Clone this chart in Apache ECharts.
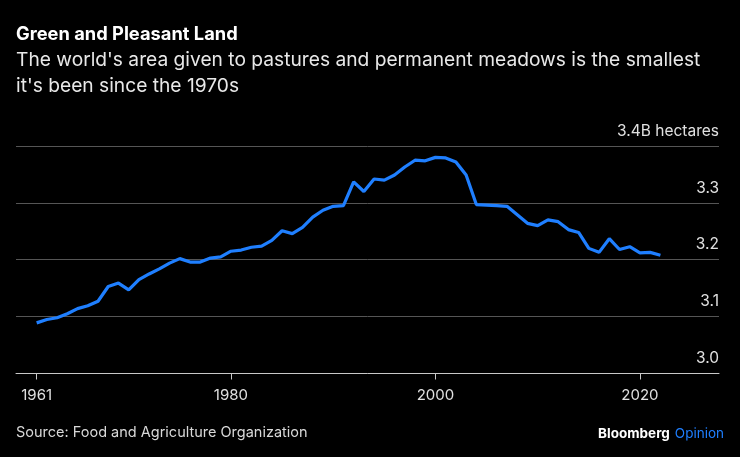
<!DOCTYPE html>
<html>
<head>
<meta charset="utf-8">
<script src="https://cdn.jsdelivr.net/npm/echarts@6/dist/echarts.min.js"></script>
<style>
html,body{margin:0;padding:0;background:#000;}
#chart{width:740px;height:457px;}
</style>
</head>
<body>
<div id="chart"></div>
<script>
const years = [1961,1962,1963,1964,1965,1966,1967,1968,1969,1970,
  1971,1972,1973,1974,1975,1976,1977,1978,1979,1980,
  1981,1982,1983,1984,1985,1986,1987,1988,1989,1990,
  1991,1992,1993,1994,1995,1996,1997,1998,1999,2000,
  2001,2002,2003,2004,2005,2006,2007,2008,2009,2010,
  2011,2012,2013,2014,2015,2016,2017,2018,2019,2020,
  2021,2022];
const pastureArea = [3.089,3.095,3.098,3.105,3.114,3.119,3.127,3.153,3.159,3.147,
  3.165,3.175,3.184,3.194,3.202,3.196,3.196,3.203,3.205,3.215,
  3.217,3.222,3.224,3.234,3.251,3.246,3.257,3.275,3.287,3.294,
  3.295,3.337,3.320,3.342,3.340,3.349,3.363,3.375,3.374,3.380,
  3.379,3.372,3.349,3.297,3.296,3.295,3.294,3.279,3.264,3.260,
  3.270,3.267,3.253,3.248,3.220,3.213,3.237,3.218,3.223,3.212,
  3.213,3.208];
const xTickYears = [1961,1980,2000,2020];
const yTicks = [3.0,3.1,3.2,3.3,3.4];

const FONT = "Inter, 'Liberation Sans', Arial, sans-serif";
const chart = echarts.init(document.getElementById('chart'));
chart.setOption({
  backgroundColor: '#000',
  animation: false,
  title: [
    {text: 'Green and Pleasant Land', left: 16, top: 23, padding: 0,
     textStyle: {color: '#fff', fontSize: 18.3, fontWeight: 'bold', fontFamily: FONT, lineHeight: 24}},
    {text: "The world's area given to pastures and permanent meadows is the smallest\nit's been since the 1970s",
     left: 16, top: 47, padding: 0,
     textStyle: {color: '#e8e8e8', fontSize: 19.2, fontWeight: 'normal', fontFamily: FONT, lineHeight: 26}},
    {text: 'Source: Food and Agriculture Organization', left: 16, top: 424, padding: 0,
     textStyle: {color: '#d8d8d8', fontSize: 14.5, fontWeight: 'normal', fontFamily: FONT, lineHeight: 18}},
    {text: '{a|Bloomberg} {b|Opinion}', right: 16, top: 425, padding: 0,
     textStyle: {rich: {
       a: {color: '#fff', fontSize: 13.5, fontWeight: 'bold', fontFamily: FONT},
       b: {color: '#1f7fff', fontSize: 13.5, fontWeight: 'normal', fontFamily: FONT}
     }}}
  ],
  grid: {left: 16, right: 21, top: 146, bottom: 83.5, containLabel: false},
  xAxis: {
    type: 'value', min: 1958.98, max: 2027.73,
    splitLine: {show: false},
    axisLine: {show: true, lineStyle: {color: '#c8c8c8', width: 1}},
    axisTick: {show: true, customValues: xTickYears, length: 6, lineStyle: {color: '#c8c8c8'}},
    axisLabel: {customValues: xTickYears, color: '#e0e0e0', fontSize: 15, fontFamily: FONT, margin: 14,
      formatter: v => String(v)}
  },
  yAxis: {
    type: 'value', position: 'right', min: 3.0, max: 3.4, interval: 0.1,
    axisLine: {show: false}, axisTick: {show: false},
    splitLine: {show: true, lineStyle: {color: '#555', width: 1}},
    axisLabel: {inside: true, margin: 0, color: '#e0e0e0', fontSize: 15.5, fontFamily: FONT,
      verticalAlign: 'bottom', padding: [0, 0, 7, 0],
      formatter: v => {
        const t = yTicks.find(k => Math.abs(k - v) < 1e-6);
        const s = (t !== undefined ? t : v).toFixed(1);
        return Math.abs(v - 3.4) < 1e-6 ? s + 'B hectares' : s;
      }}
  },
  series: [{
    type: 'line', data: years.map((y, i) => [y, pastureArea[i]]),
    showSymbol: false, symbol: 'none',
    lineStyle: {color: '#1f7fff', width: 3.2},
    itemStyle: {color: '#1f7fff'}
  }]
});
</script>
</body>
</html>
